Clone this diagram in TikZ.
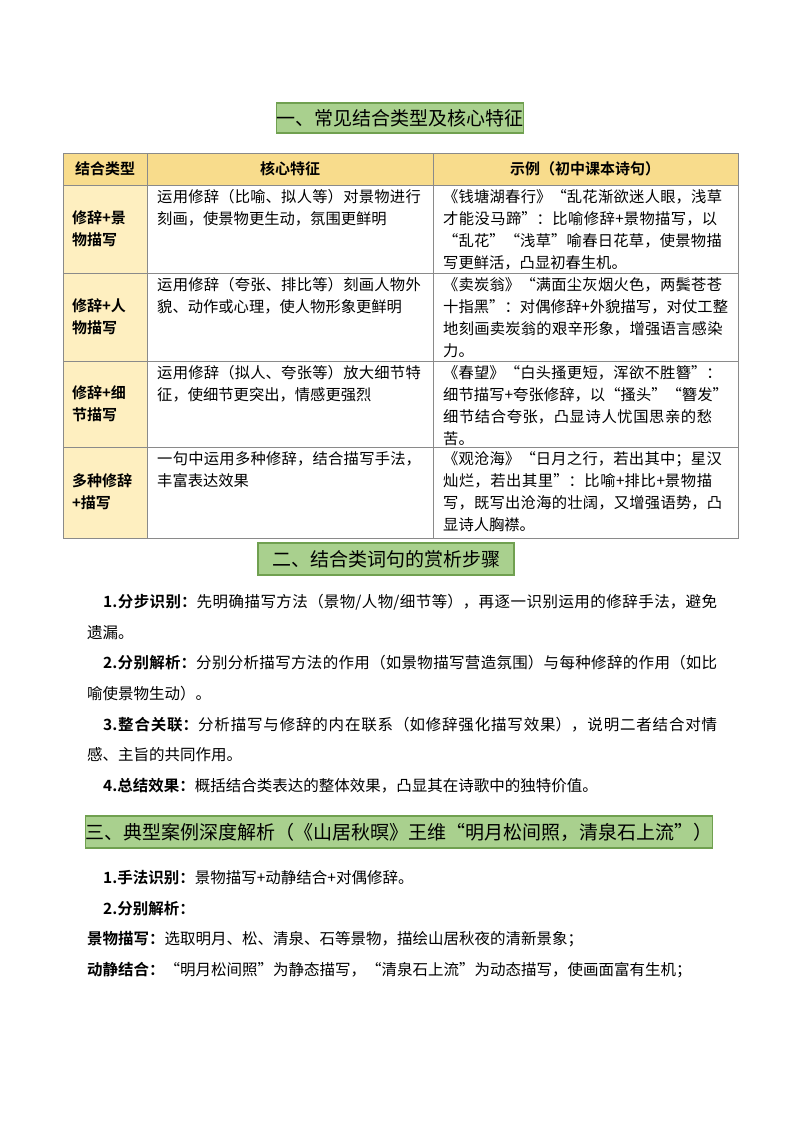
\documentclass[tikz,border=0pt]{standalone}
\usepackage{fontspec}
\newfontfamily\cjk{Noto Sans CJK SC}
\newfontfamily\cjkb{Noto Sans CJK SC Bold}
\XeTeXlinebreaklocale "zh"
\XeTeXlinebreakskip=0pt plus 1pt
\definecolor{headgreen}{HTML}{A9D08E}
\definecolor{headedge}{HTML}{70A050}
\definecolor{tabhead}{HTML}{F8DC8C}
\definecolor{tabfirst}{HTML}{FEEFC0}
\definecolor{tabline}{HTML}{8A8A8A}
\tikzset{
  titlebar/.style={fill=headgreen, draw=headedge, line width=1.2pt, inner sep=0pt, font=\cjk\fontsize{19}{22}\selectfont},
  cell/.style={anchor=north west, align=left, inner sep=0pt, font=\cjk\fontsize{15.3}{22}\selectfont},
  keycell/.style={align=left, inner sep=0pt, text width=70pt, font=\cjkb\fontsize{15}{22}\selectfont},
  para/.style={anchor=north west, align=justify, inner sep=0pt, text width=630pt, font=\cjk\fontsize{15.5}{30.7}\selectfont}
}
\begin{document}
\begin{tikzpicture}[x=1pt, y=-1pt]
\useasboundingbox (0,0) rectangle (800,1132);
\fill[white] (0,0) rectangle (800,1132);
% titles
\node[titlebar, minimum width=244pt, minimum height=30pt] (t1) at (400,118) {一、常见结合类型及核心特征};
\node[titlebar, minimum width=256pt, minimum height=32pt] (t2) at (386,559) {二、结合类词句的赏析步骤};
\node[titlebar, minimum width=626pt, minimum height=32pt] (t3) at (399,832) {三、典型案例深度解析（《山居秋暝》王维“明月松间照，清泉石上流”）};
% table
\fill[tabhead] (63,153) rectangle (738,185);
\fill[tabfirst] (63,185) rectangle (147,538);
\draw[tabline] (63,153) rectangle (738,538);
\foreach \y in {185,273,361,447}
{
    \draw[tabline] (63,\y)--(738,\y);
}
\foreach \x in {147,433}
{
    \draw[tabline] (\x,153)--(\x,538);
}
\node[font=\cjkb\fontsize{15}{18}\selectfont] (h1) at (105,169) {结合类型};
\node[font=\cjkb\fontsize{15}{18}\selectfont] (h2) at (290,169) {核心特征};
\node[font=\cjkb\fontsize{15}{18}\selectfont] (h3) at (585,169) {示例（初中课本诗句）};
\node[keycell] (k1) at (107,229) {修辞+景\\物描写};
\node[keycell] (k2) at (107,317) {修辞+人\\物描写};
\node[keycell] (k3) at (107,404) {修辞+细\\节描写};
\node[keycell] (k4) at (107,492) {多种修辞\\+描写};
\node[cell, text width=272pt] (c1) at (157,189) {运用修辞（比喻、拟人等）对景物进行刻画，使景物更生动，氛围更鲜明};
\node[cell, text width=272pt] (c2) at (157,277) {运用修辞（夸张、排比等）刻画人物外貌、动作或心理，使人物形象更鲜明};
\node[cell, text width=272pt] (c3) at (157,365) {运用修辞（拟人、夸张等）放大细节特征，使细节更突出，情感更强烈};
\node[cell, text width=272pt] (c4) at (157,451) {一句中运用多种修辞，结合描写手法，丰富表达效果};
\node[cell, text width=287pt] (e1) at (443,189) {《钱塘湖春行》“乱花渐欲迷人眼，浅草才能没马蹄”：比喻修辞+景物描写，以“乱花”“浅草”喻春日花草，使景物描写更鲜活，凸显初春生机。};
\node[cell, text width=287pt] (e2) at (443,277) {《卖炭翁》“满面尘灰烟火色，两鬓苍苍十指黑”：对偶修辞+外貌描写，对仗工整地刻画卖炭翁的艰辛形象，增强语言感染力。};
\node[cell, text width=287pt] (e3) at (443,365) {《春望》“白头搔更短，浑欲不胜簪”：细节描写+夸张修辞，以“搔头”“簪发”细节结合夸张，凸显诗人忧国思亲的愁苦。};
\node[cell, text width=287pt] (e4) at (443,451) {《观沧海》“日月之行，若出其中；星汉灿烂，若出其里”：比喻+排比+景物描写，既写出沧海的壮阔，又增强语势，凸显诗人胸襟。};
% steps
\node[para] (s1) at (87,594) {\hspace*{16pt}{\cjkb 1.分步识别：}先明确描写方法（景物/人物/细节等），再逐一识别运用的修辞手法，避免遗漏。\par
\hspace*{16pt}{\cjkb 2.分别解析：}分别分析描写方法的作用（如景物描写营造氛围）与每种修辞的作用（如比喻使景物生动）。\par
\hspace*{16pt}{\cjkb 3.整合关联：}分析描写与修辞的内在联系（如修辞强化描写效果），说明二者结合对情感、主旨的共同作用。\par
\hspace*{16pt}{\cjkb 4.总结效果：}概括结合类表达的整体效果，凸显其在诗歌中的独特价值。};
% case
\node[para] (s2) at (87,870) {\hspace*{16pt}{\cjkb 1.手法识别：}景物描写+动静结合+对偶修辞。\par
\hspace*{16pt}{\cjkb 2.分别解析：}\par
{\cjkb 景物描写：}选取明月、松、清泉、石等景物，描绘山居秋夜的清新景象；\par
{\cjkb 动静结合：}“明月松间照”为静态描写，“清泉石上流”为动态描写，使画面富有生机；};
\end{tikzpicture}
\end{document}
